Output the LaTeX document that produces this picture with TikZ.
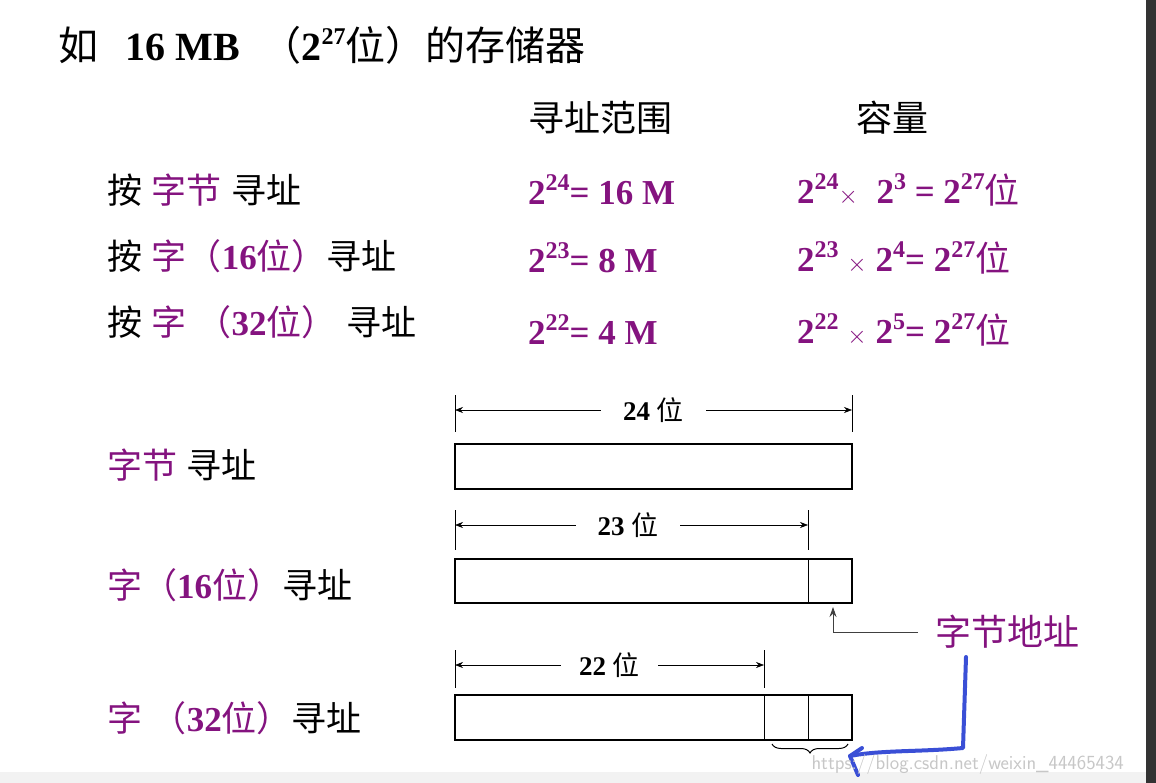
\documentclass[tikz,border=0pt]{standalone}
\usepackage{fontspec}
\setmainfont{Liberation Serif}
\newfontfamily\cjk{Noto Sans CJK SC}
\usetikzlibrary{arrows.meta,decorations.pathreplacing}
\definecolor{pur}{HTML}{84137F}
\definecolor{pen}{HTML}{3A4FD6}
\begin{document}
\begin{tikzpicture}[x=1pt,y=-1pt,
  txt/.style={anchor=west,inner sep=0pt,font=\fontsize{35}{38}\selectfont\bfseries},
  cj/.style={anchor=west,inner sep=0pt,font=\fontsize{35}{38}\selectfont\bfseries},
  box/.style={draw,line width=1.3pt},
  dim/.style={{Stealth[length=8pt,width=6pt]}-{Stealth[length=8pt,width=6pt]},line width=0.6pt},
  tick/.style={line width=0.6pt},
  lab/.style={fill=white,inner xsep=14pt,inner ysep=3pt,font=\fontsize{27}{30}\selectfont\bfseries}]
\useasboundingbox (0,0) rectangle (1156,783);
\fill[black!80] (1146,0) rectangle (1156,783);
\fill[black!5] (0,772) rectangle (1146,783);
\newcommand{\C}[1]{{\cjk\mdseries #1}}
\newcommand{\Sp}[1]{\raisebox{0.4em}{\fontsize{24}{26}\selectfont #1}}
\node[txt,font=\fontsize{40}{42}\selectfont\bfseries] (title) at (58,45) {\C{如}\;\, 16 MB\; \C{（}2\Sp{27}\C{位）的存储器}};
\node[cj,anchor=center,font=\fontsize{36}{38}\selectfont] (h1) at (600,118) {\C{寻址范围}};
\node[cj,anchor=center,font=\fontsize{36}{38}\selectfont] (h2) at (892,118) {\C{容量}};
\node[cj] (l1) at (107,190) {\C{按\;\textcolor{pur}{字节}\;寻址}};
\node[cj] (l2) at (107,256) {\C{按\;\textcolor{pur}{字（}}\textcolor{pur}{16}\C{\textcolor{pur}{位）}寻址}};
\node[cj] (l3) at (107,322) {\C{按\;\textcolor{pur}{字\;（}}\textcolor{pur}{32}\C{\textcolor{pur}{位）}\;寻址}};
\node[txt,pur] (m1) at (528,190) {2\Sp{24}= 16 M};
\node[txt,pur] (m2) at (528,258) {2\Sp{23}= 8 M};
\node[txt,pur] (m3) at (528,330) {2\Sp{22}= 4 M};
\node[txt,pur] (r1) at (797,190) {2\Sp{24}$\times$\; 2\Sp{3} = 2\Sp{27}\C{位}};
\node[txt,pur] (r2) at (797,258) {2\Sp{23} $\times$ 2\Sp{4}= 2\Sp{27}\C{位}};
\node[txt,pur] (r3) at (797,330) {2\Sp{22} $\times$ 2\Sp{5}= 2\Sp{27}\C{位}};
% labels
\node[cj] (a1) at (107,465) {\C{\textcolor{pur}{字节}\;寻址}};
\node[cj] (a2) at (107,585) {\C{\textcolor{pur}{字（}}\textcolor{pur}{16}\C{\textcolor{pur}{位）}寻址}};
\node[cj] (a3) at (107,718) {\C{\textcolor{pur}{字\;（}}\textcolor{pur}{32}\C{\textcolor{pur}{位）}寻址}};
% boxes
\draw[box] (455,444) rectangle (852,489);
\draw[box] (455,559) rectangle (852,603);
\draw[line width=0.8pt] (808,559) -- (808,603);
\draw[box] (455,695) rectangle (852,740);
\draw[line width=0.8pt] (764,695) -- (764,740) (808,695) -- (808,740);
% dimensions
\coordinate (d1a) at (455,410); \coordinate (d1b) at (852,410);
\draw[tick] (455,395) -- (455,432) (852,395) -- (852,432);
\draw[dim] (d1a) -- node[lab,inner xsep=22pt] {24 \C{位}} (d1b);
\coordinate (d2a) at (455,525); \coordinate (d2b) at (808,525);
\draw[tick] (455,510) -- (455,550) (808,510) -- (808,550);
\draw[dim] (d2a) -- node[lab,pos=0.49,inner xsep=22pt] {23 \C{位}} (d2b);
\coordinate (d3a) at (455,665); \coordinate (d3b) at (764,665);
\draw[tick] (455,650) -- (455,688) (764,650) -- (764,688);
\draw[dim] (d3a) -- node[lab,inner xsep=18pt] {22 \C{位}} (d3b);
% byte address
\node[cj,pur,font=\fontsize{36}{38}\selectfont] (ba) at (935,632) {\C{字节地址}};
\coordinate (bk) at (833,632);
\draw[line width=0.8pt,black!75,-{Stealth[length=10pt,width=7pt]}] (918,632) -- (bk) -- (833,607);
\draw[decorate,decoration={brace,amplitude=9pt,mirror},line width=1pt] (772,744) -- (848,744);
% pen stroke
\draw[pen,line width=4pt,line cap=round,line join=round] (966,657) -- (963,748) .. controls (920,752) and (880,750) .. (850,756);
\draw[pen,line width=4pt,line cap=round] (850,756) -- (858,775) (850,756) -- (862,748);
\node[anchor=west,text=black!22,font=\fontsize{20}{22}\selectfont\sffamily] (wm) at (808,764) {https://blog.csdn.net/weixin\_44465434};
\end{tikzpicture}
\end{document}
